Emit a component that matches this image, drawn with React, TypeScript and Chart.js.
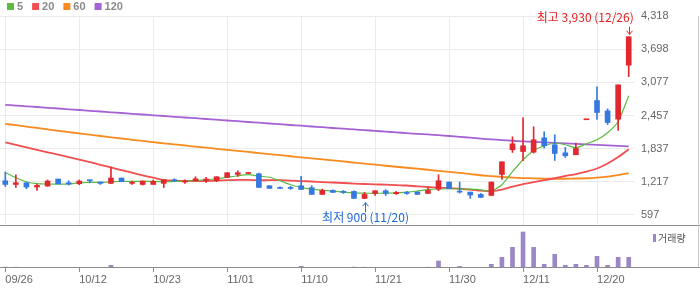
import React, { useEffect, useRef } from 'react';
import { Chart, registerables } from 'chart.js';

Chart.register(...registerables);

const dates = ['09/26','09/27','10/04','10/05','10/06','10/10','10/11','10/12','10/13','10/16','10/17','10/18','10/19','10/20','10/23','10/24','10/25','10/26','10/27','10/30','10/31','11/01','11/02','11/03','11/06','11/07','11/08','11/09','11/10','11/13','11/14','11/15','11/16','11/17','11/20','11/21','11/22','11/23','11/24','11/27','11/28','11/29','11/30','12/01','12/04','12/05','12/06','12/07','12/08','12/11','12/12','12/13','12/14','12/15','12/18','12/19','12/20','12/21','12/22','12/26'];

const opens = [1237,1168,1200,1120,1138,1269,1200,1181,1251,1213,1188,1288,1188,1168,1168,1188,1256,1213,1237,1243,1237,1300,1356,1374,1368,1144,1107,1107,1144,1107,982,1056,1038,1038,907,1000,1050,994,1019,1025,1000,1081,1213,1044,1025,982,963,1356,1816,1784,1773,2040,1910,1760,1723,2378,2737,2544,2389,3398];
const highs = [1400,1349,1200,1176,1251,1269,1237,1251,1251,1213,1493,1288,1232,1232,1251,1256,1274,1256,1312,1300,1312,1387,1424,1387,1380,1144,1125,1131,1318,1144,1081,1069,1056,1050,1019,1050,1069,1038,1038,1038,1101,1349,1213,1213,1025,1000,1213,1592,2059,2414,2246,2152,2096,1859,1941,2384,2993,2581,3030,3930];
const lows = [1131,1112,1088,1056,1131,1176,1157,1163,1200,1168,1188,1219,1168,1157,1168,1112,1219,1188,1237,1206,1219,1300,1318,1374,1112,1094,1094,1075,1075,982,982,1019,1000,907,900,963,963,982,982,982,1000,1050,1088,1007,907,926,963,1262,1766,1611,1755,1848,1617,1673,1723,2378,2382,2289,2177,3185];
const closes = [1168,1200,1120,1150,1232,1176,1176,1232,1237,1188,1288,1219,1206,1232,1225,1256,1237,1232,1274,1269,1312,1387,1387,1387,1112,1094,1094,1094,1075,982,1056,1019,1019,907,982,1050,1000,1019,1000,982,1056,1237,1088,1025,970,926,1213,1592,1928,1891,2003,1891,1747,1704,1841,2384,2513,2326,3030,3930];
const volumes = [90,80,20,15,25,20,10,15,10,10,270,30,10,15,20,20,10,10,15,10,20,30,15,10,70,30,10,15,170,40,20,15,10,90,80,20,15,10,10,15,80,700,60,160,60,20,370,1070,2070,3600,2070,370,1370,270,370,270,1170,270,1070,1070];

const ma5 = [1393,1294,1219,1182,1176,1176,1176,1200,1206,1206,1219,1223,1225,1225,1225,1219,1223,1228,1238,1256,1275,1303,1331,1350,1322,1303,1238,1163,1111,1079,1060,1042,1023,1010,1004,1004,1004,1008,1023,1045,1070,1083,1088,1085,1079,1066,1042,1163,1406,1630,1798,1891,1938,1910,1854,1929,2003,2134,2345,2825];
const ma20 = [1953,1906,1861,1815,1770,1725,1680,1634,1585,1536,1486,1437,1387,1338,1294,1247,1238,1234,1232,1232,1238,1247,1253,1253,1247,1247,1247,1241,1232,1223,1213,1204,1195,1185,1176,1171,1163,1157,1148,1132,1120,1107,1098,1088,1073,1051,1042,1070,1126,1176,1210,1247,1284,1326,1363,1410,1466,1559,1680,1826];
const ma60 = [2302,2276,2250,2224,2197,2171,2147,2123,2098,2074,2050,2027,2003,1981,1958,1938,1917,1897,1876,1856,1835,1815,1796,1776,1755,1736,1716,1695,1676,1656,1637,1617,1598,1578,1559,1538,1518,1499,1480,1462,1443,1422,1402,1383,1363,1340,1325,1308,1297,1288,1282,1277,1275,1275,1279,1284,1297,1315,1343,1380];
const ma120 = [2657,2643,2629,2616,2601,2588,2573,2560,2545,2532,2517,2504,2489,2476,2461,2448,2433,2420,2407,2392,2379,2364,2351,2336,2323,2308,2295,2280,2267,2252,2239,2224,2211,2197,2183,2170,2155,2142,2127,2114,2104,2089,2074,2059,2042,2024,2011,1998,1985,1974,1964,1955,1945,1936,1927,1917,1908,1898,1889,1880];

const yTickValues = [597, 1217, 1837, 2457, 3077, 3698, 4318];
const maLabels = ['5', '20', '60', '120'];
const volumeLabel = '거래량';

const UP = '#e0282e';
const DOWN = '#3579e0';
const MA_COLORS = ['#5bbd3f', '#f05050', '#f78b1f', '#a463d4'];
const VOL_COLOR = '#9b87c6';
const TICK_FONT = '"Liberation Sans", Arial, sans-serif';
const KR_FONT = '"Noto Sans CJK KR", "Liberation Sans", sans-serif';

const fmt = (v: number) => Math.round(v).toLocaleString('en-US');

export default function App() {
  const ref = useRef<HTMLCanvasElement>(null);

  useEffect(() => {
    document.body.style.margin = '0';
    const canvas = ref.current;
    if (!canvas) return;

    const candleColors = closes.map((c, i) => (c >= opens[i] ? UP : DOWN));
    const maxHigh = Math.max(...highs);
    const hiIdx = highs.indexOf(maxHigh);
    const minLow = Math.min(...lows);
    const loIdx = lows.indexOf(minLow);

    const overlay = {
      id: 'overlay',
      beforeDatasetsDraw(chart: any) {
        const { ctx, scales } = chart;
        const x = scales.x;
        const y = scales.y;
        ctx.save();
        ctx.strokeStyle = '#ebebeb';
        ctx.lineWidth = 1;
        x.ticks.forEach((_t: any, i: number) => {
          const px = Math.round(x.getPixelForTick(i)) + 0.5;
          ctx.beginPath();
          ctx.moveTo(px, y.top);
          ctx.lineTo(px, y.bottom);
          ctx.stroke();
        });
        ctx.restore();
      },
      afterDraw(chart: any) {
        const { ctx, scales, width } = chart;
        const x = scales.x;
        const y = scales.y;
        const yv = scales.yv;
        ctx.save();
        // frame lines
        ctx.lineWidth = 1;
        ctx.strokeStyle = '#8c8c8c';
        const divY = Math.round(y.bottom) - 0.5;
        ctx.beginPath(); ctx.moveTo(0, divY); ctx.lineTo(width, divY); ctx.stroke();
        const botY = Math.round(yv.bottom) - 0.5;
        ctx.beginPath(); ctx.moveTo(0, botY); ctx.lineTo(width, botY); ctx.stroke();
        ctx.strokeStyle = '#c8c8c8';
        ctx.beginPath(); ctx.moveTo(width - 1.5, y.top); ctx.lineTo(width - 1.5, botY); ctx.stroke();

        // MA legend
        ctx.font = 'bold 11px ' + TICK_FONT;
        ctx.textBaseline = 'middle';
        ctx.textAlign = 'left';
        let lx = 7;
        maLabels.forEach((lab, i) => {
          ctx.fillStyle = MA_COLORS[i];
          ctx.fillRect(lx, 3, 7, 7);
          ctx.fillStyle = '#8a8a8a';
          ctx.fillText(lab, lx + 10, 7);
          lx += 10 + ctx.measureText(lab).width + 9;
        });

        // volume legend
        ctx.fillStyle = VOL_COLOR;
        ctx.fillRect(653, yv.top + 8, 3, 8);
        ctx.fillStyle = '#555';
        ctx.font = '10px ' + KR_FONT;
        ctx.fillText(volumeLabel, 658, yv.top + 12.5);

        // highest annotation
        const hx = x.getPixelForValue(hiIdx);
        const hy = y.getPixelForValue(maxHigh);
        ctx.fillStyle = '#e3201f';
        ctx.strokeStyle = '#e3201f';
        ctx.font = '12px ' + KR_FONT;
        ctx.textAlign = 'right';
        ctx.fillText(`최고 ${fmt(maxHigh)} (${dates[hiIdx]})`, hx + 5, hy - 19);
        const ax = Math.round(hx) + 0.5;
        ctx.beginPath(); ctx.moveTo(ax, hy - 10); ctx.lineTo(ax, hy - 2); ctx.stroke();
        ctx.beginPath(); ctx.moveTo(ax - 3, hy - 6); ctx.lineTo(ax, hy - 2.5); ctx.lineTo(ax + 3, hy - 6); ctx.stroke();

        // lowest annotation
        const lxp = x.getPixelForValue(loIdx);
        const lyp = y.getPixelForValue(minLow);
        ctx.fillStyle = '#2168d8';
        ctx.strokeStyle = '#2168d8';
        ctx.textAlign = 'center';
        ctx.fillText(`최저 ${fmt(minLow)} (${dates[loIdx]})`, lxp + 1, lyp + 18.6);
        const bx = Math.round(lxp) + 0.5;
        ctx.beginPath(); ctx.moveTo(bx, lyp + 13.5); ctx.lineTo(bx, lyp + 3.5); ctx.stroke();
        ctx.beginPath(); ctx.moveTo(bx - 3, lyp + 7.5); ctx.lineTo(bx, lyp + 4); ctx.lineTo(bx + 3, lyp + 7.5); ctx.stroke();
        ctx.restore();
      },
    };

    const maSets = [ma5, ma20, ma60, ma120].map((d, i) => ({
      type: 'line' as const,
      label: maLabels[i],
      data: d,
      borderColor: MA_COLORS[i],
      borderWidth: i === 0 ? 1.2 : 1.8,
      pointRadius: 0,
      tension: 0.2,
      yAxisID: 'y',
      order: 2 + i,
    }));

    const chart = new Chart(canvas, {
      data: {
        labels: dates,
        datasets: [
          {
            type: 'bar',
            label: 'body',
            data: opens.map((o, i) => [o, closes[i]]),
            backgroundColor: candleColors,
            barThickness: 5,
            minBarLength: 1,
            grouped: false,
            yAxisID: 'y',
            order: 0,
          } as any,
          {
            type: 'bar',
            label: 'wick',
            data: lows.map((l, i) => [l, highs[i]]),
            backgroundColor: candleColors,
            barThickness: 1,
            grouped: false,
            yAxisID: 'y',
            order: 1,
          } as any,
          ...maSets,
          {
            type: 'bar',
            label: volumeLabel,
            data: volumes,
            backgroundColor: VOL_COLOR,
            barThickness: 4,
            grouped: false,
            yAxisID: 'yv',
            order: 10,
          } as any,
        ],
      },
      options: {
        responsive: false,
        animation: false,
        devicePixelRatio: 1,
        layout: { padding: { top: 16, left: 0, right: 0, bottom: 0 } },
        plugins: { legend: { display: false }, tooltip: { enabled: false } },
        scales: {
          x: {
            type: 'category',
            offset: true,
            grid: { drawOnChartArea: false, drawTicks: true, tickLength: 4, color: '#8c8c8c', offset: false },
            border: { display: false },
            ticks: {
              autoSkip: false,
              maxRotation: 0,
              align: 'start',
              color: '#666',
              padding: 1,
              font: { size: 11, family: TICK_FONT },
            },
            afterBuildTicks: (s: any) => {
              s.ticks = s.ticks.filter((t: any) => t.value % 7 === 0);
            },
            afterFit: (s: any) => {
              s.height = 21;
            },
          },
          y: {
            type: 'linear',
            position: 'right',
            stack: 'panels',
            stackWeight: 5,
            min: 391,
            max: 4318,
            grid: { color: '#ebebeb', drawTicks: false },
            border: { display: false },
            ticks: {
              color: '#666',
              padding: 7,
              font: { size: 11, family: TICK_FONT },
              callback: (v: any) => fmt(Number(v)),
            },
            afterBuildTicks: (s: any) => {
              s.ticks = yTickValues.map((v) => ({ value: v }));
            },
            afterFit: (s: any) => {
              s.width = 66;
            },
          },
          yv: {
            type: 'linear',
            position: 'right',
            stack: 'panels',
            stackWeight: 1,
            min: 0,
            max: 4200,
            grid: { display: false, drawTicks: false },
            border: { display: false },
            ticks: { display: false },
            afterFit: (s: any) => {
              s.width = 66;
            },
          },
        },
      } as any,
      plugins: [overlay],
    });

    return () => chart.destroy();
  }, []);

  return (
    <div style={{ width: 700, height: 289 }}>
      <canvas ref={ref} width={700} height={289} style={{ display: 'block' }} />
    </div>
  );
}
